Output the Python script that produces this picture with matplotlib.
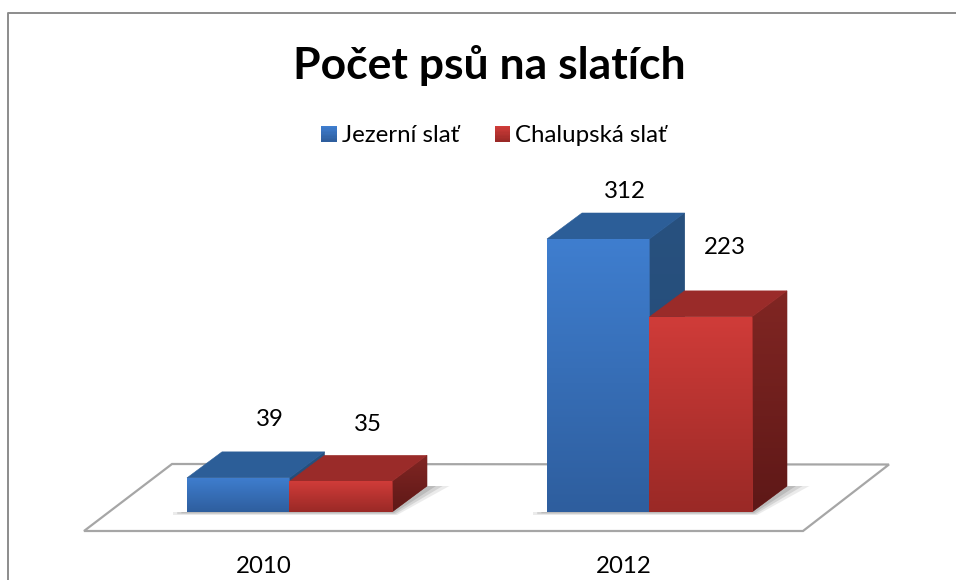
import matplotlib
matplotlib.use("Agg")
import matplotlib.pyplot as plt
import numpy as np
from matplotlib.colors import LinearSegmentedColormap
from matplotlib.legend_handler import HandlerBase
from matplotlib.lines import Line2D
from matplotlib.patches import Patch, Polygon, Rectangle

plt.rcParams["font.family"] = ["Lato", "DejaVu Sans"]

years = ["2010", "2012"]
series_names = ["Jezerní slať", "Chalupská slať"]
jezerni = [39, 312]
chalupska = [35, 223]

W, H = 956, 580
PX_PER_X = 360.0  # one category step
PX_PER_Y = 0.875  # one dog
BASE_X, BASE_Y = 289.5, 512

BAR_W = 102.5 / PX_PER_X
DEPTH_X = 35 / PX_PER_X
DEPTH_Y = 26 / PX_PER_Y

FRONT = [("#3f7ecf", "#2e5e9e"), ("#d03c39", "#9a2926")]
SIDE = [("#28517f", "#234a75"), ("#812623", "#5e1817")]
TOP = ["#2c5e98", "#9a2b29"]
GRAY = "#a6a6a6"

# label offsets from the top of the front face, in pixels
LABEL_OFFSETS = [[(32, 58), (27, 57)], [(27, 48), (24, 69)]]


def px_x(x):
    return (x - BASE_X) / PX_PER_X


def px_y(y):
    return (BASE_Y - y) / PX_PER_Y


def gradient_face(ax, points, colors, zorder):
    points = np.array(points)
    cmap = LinearSegmentedColormap.from_list("face", colors)
    face = Polygon(points, closed=True, facecolor=cmap(0.5), edgecolor=cmap(0.5), lw=0.4, zorder=zorder)
    ax.add_patch(face)
    img = ax.imshow(
        np.linspace(0, 1, 128).reshape(-1, 1),
        cmap=cmap,
        aspect="auto",
        origin="upper",
        interpolation="bilinear",
        extent=(points[:, 0].min(), points[:, 0].max(), points[:, 1].min(), points[:, 1].max()),
        zorder=zorder,
    )
    img.set_clip_path(face)


def draw_shadow(ax, x, width):
    # soft shadow on the floor, under the front and right of the bars
    for grow, alpha in [(1.0, 0.14), (0.7, 0.20), (0.4, 0.26)]:
        g = 14 * grow / PX_PER_X
        low = -3 * grow / PX_PER_Y
        pts = [
            (x - g, low),
            (x + width + 5 * grow / PX_PER_X, low),
            (x + width + DEPTH_X + g * 1.6, DEPTH_Y),
            (x + width + DEPTH_X, DEPTH_Y),
            (x + width, 0),
            (x - g, 0),
        ]
        ax.add_patch(Polygon(pts, closed=True, facecolor="#777777", edgecolor="none",
                             alpha=alpha, zorder=2, clip_on=False))


def draw_bar(ax, x, value, idx, zorder):
    top = value
    front = [(x, 0), (x + BAR_W, 0), (x + BAR_W, top), (x, top)]
    side = [(x + BAR_W, 0), (x + BAR_W + DEPTH_X, DEPTH_Y),
            (x + BAR_W + DEPTH_X, top + DEPTH_Y), (x + BAR_W, top)]
    lid = [(x, top), (x + BAR_W, top), (x + BAR_W + DEPTH_X, top + DEPTH_Y), (x + DEPTH_X, top + DEPTH_Y)]
    gradient_face(ax, side, SIDE[idx], zorder)
    ax.add_patch(Polygon(lid, closed=True, facecolor=TOP[idx], edgecolor=TOP[idx], lw=0.4, zorder=zorder))
    gradient_face(ax, front, FRONT[idx], zorder + 0.1)


class GradientHandler(HandlerBase):
    def create_artists(self, legend, orig_handle, xdescent, ydescent, width, height, fontsize, trans):
        colors = orig_handle.get_gid().split(",")
        cmap = LinearSegmentedColormap.from_list("swatch", colors)
        artists = []
        n = 12
        for i in range(n):
            artists.append(Rectangle((-xdescent, -ydescent + height * (n - 1 - i) / n), width, height / n + 0.2,
                                     facecolor=cmap(i / (n - 1)), edgecolor="none", transform=trans))
        return artists


fig = plt.figure(figsize=(W / 100, H / 100), dpi=100, facecolor="white")
ax = fig.add_axes([0, (H - BASE_Y) / H, 1, BASE_Y / H])

# chart border, cut by the picture on the right and bottom
fig.add_artist(Line2D([8 / W, 8 / W, 1], [0, 1 - 13 / H, 1 - 13 / H], transform=fig.transFigure,
                      color="#8c8c8c", lw=1.4))

# floor
floor = [(px_x(84), px_y(531)), (px_x(803), px_y(531)), (px_x(889), px_y(464.5)), (px_x(172), px_y(464))]
ax.add_patch(Polygon(floor, closed=True, facecolor="white", edgecolor=GRAY, lw=1.6, zorder=1, clip_on=False))

for g in range(len(years)):
    draw_shadow(ax, g - BAR_W, 2 * BAR_W)
    for s, values in enumerate([jezerni, chalupska]):
        x = g - BAR_W + s * BAR_W
        draw_bar(ax, x, values[g], s, 3 + s)
        off = LABEL_OFFSETS[g][s]
        ax.annotate(str(values[g]), (x + BAR_W / 2, values[g]), xytext=(off[0] * 0.72, off[1] * 0.72),
                    textcoords="offset points", ha="center", va="center", fontsize=17.3, color="black",
                    zorder=8)

ax.set_xlim(px_x(0), px_x(W))
ax.set_ylim(0, px_y(0))
ax.set_xticks(np.arange(len(years)) - 26 / PX_PER_X)
ax.set_xticklabels(years, fontsize=17.3)
ax.tick_params(axis="x", length=0, pad=32)
ax.set_yticks([])
for spine in ax.spines.values():
    spine.set_visible(False)
ax.patch.set_alpha(0)

fig.text(489 / W, 1 - 65 / H, "Počet psů na slatích", ha="center", va="center",
         fontsize=32, fontweight="bold", color="black")

handles = [Patch(gid=",".join(FRONT[0])), Patch(gid=",".join(FRONT[1]))]
ax.legend(handles, series_names, handler_map={Patch: GradientHandler()}, loc="center",
          bbox_to_anchor=(494 / W, 1 - 136 / H), bbox_transform=fig.transFigure, ncol=2, frameon=False,
          fontsize=17.3, handlelength=0.65, handleheight=0.65, handletextpad=0.2, columnspacing=1.5)

fig.savefig("out.png", dpi=100)
